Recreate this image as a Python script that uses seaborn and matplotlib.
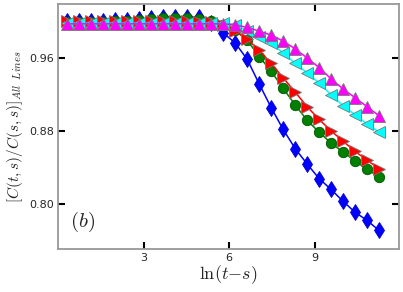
import matplotlib
matplotlib.use("Agg")
import matplotlib.pyplot as plt
import seaborn as sns
import numpy as np

# ---- data ----
ln_dt = [0.33, 0.75, 1.17, 1.59, 2.01, 2.43, 2.85, 3.27, 3.69, 4.11, 4.53, 4.95, 5.37,
         5.79, 6.21, 6.63, 7.05, 7.47, 7.89, 8.31, 8.73, 9.15, 9.57, 9.99, 10.41, 10.83, 11.25]

blue = [1.001, 1.001, 1.001, 1.001, 1.002, 1.002, 1.003, 1.004, 1.005, 1.0055, 1.0055, 1.005, 0.999,
        0.988, 0.977, 0.959, 0.932, 0.906, 0.882, 0.861, 0.844, 0.828, 0.816, 0.803, 0.791, 0.782, 0.771]
green = [1.000, 1.000, 1.000, 1.000, 1.001, 1.001, 1.002, 1.003, 1.004, 1.004, 1.004, 1.003, 1.001,
         0.997, 0.991, 0.980, 0.962, 0.946, 0.927, 0.909, 0.892, 0.879, 0.867, 0.857, 0.8475, 0.838, 0.830]
red = [1.001, 1.001, 1.001, 1.001, 1.001, 1.001, 1.001, 1.001, 1.001, 1.001, 1.001, 1.000, 1.000,
       0.997, 0.990, 0.981, 0.969, 0.9545, 0.9387, 0.923, 0.907, 0.893, 0.8804, 0.869, 0.858, 0.848, 0.839]
cyan = [0.999, 0.999, 0.999, 0.999, 0.999, 0.999, 0.999, 0.999, 0.999, 0.999, 0.999, 0.999, 0.999,
        0.999, 0.997, 0.990, 0.984, 0.9765, 0.966, 0.9545, 0.944, 0.933, 0.920, 0.908, 0.898, 0.888, 0.879]
magenta = [0.998, 0.998, 0.998, 0.998, 0.998, 0.998, 0.998, 0.998, 0.998, 0.998, 0.998, 0.998, 0.998,
           0.998, 0.997, 0.994, 0.990, 0.9856, 0.979, 0.9705, 0.9605, 0.950, 0.9375, 0.9265, 0.9168, 0.907, 0.897]

xticks = [3, 6, 9]
yticks = [0.80, 0.88, 0.96]

series = [
    (blue, "#0000ff", "d", 8, "#0000cc"),
    (green, "#007f00", "o", 7.5, "#005500"),
    (red, "#ff0000", ">", 8, "#777777"),
    (cyan, "#00ffff", "<", 8, "#777777"),
    (magenta, "#ff00ff", "^", 8, "#777777"),
]

sns.set_style("white")
plt.rcParams["mathtext.fontset"] = "cm"
plt.rcParams["font.family"] = ["DejaVu Sans"]

fig = plt.figure(figsize=(4.03, 2.92), dpi=100)
ax = fig.add_axes([0.144, 0.147, 0.846, 0.839])

for vals, col, mk, ms, ec in series:
    sns.lineplot(x=ln_dt, y=vals, ax=ax, color=col, marker=mk, markersize=ms,
                 markeredgecolor=ec, markeredgewidth=0.6, linewidth=1.1)

ax.set_xlim(0.0, 11.95)
ax.set_ylim(0.7505, 1.0197)
ax.set_xticks(xticks)
ax.set_xticklabels([str(t) for t in xticks])
ax.set_yticks(yticks)
ax.set_yticklabels([f"{t:.2f}" for t in yticks])

ax.tick_params(axis="both", which="major", direction="in", length=5, width=1.5,
               color="black", labelsize=8, top=True, right=True, bottom=True, left=True,
               pad=3)
for s in ax.spines.values():
    s.set_color("#999999")
    s.set_linewidth(1.3)

ax.set_xlabel(r"$\ln(t{-}s)$", fontsize=13, labelpad=0)
ax.set_ylabel(r"$[C(t,s)/C(s,s)]_{All\ \ Lines}$", fontsize=11, labelpad=3)
ax.text(0.035, 0.11, r"$(b)$", transform=ax.transAxes, fontsize=15, va="center", ha="left")

fig.savefig("out.png", dpi=100)
